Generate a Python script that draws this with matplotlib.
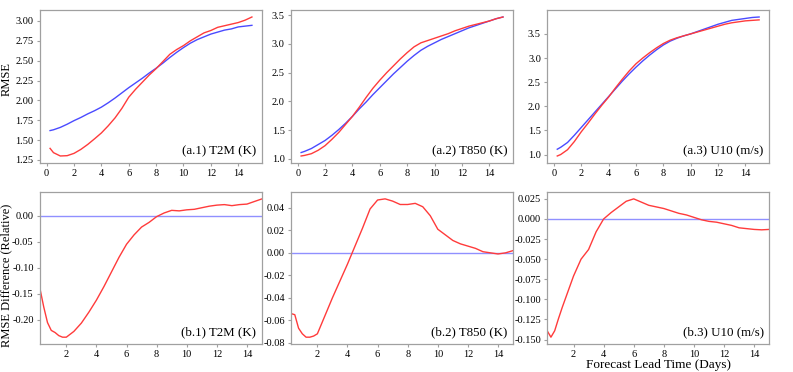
import matplotlib
matplotlib.use("Agg")
import matplotlib.pyplot as plt
from matplotlib.ticker import MultipleLocator

plt.rcParams['font.family'] = ['Liberation Serif', 'DejaVu Serif']
plt.rcParams['axes.unicode_minus'] = False

# lead times (days)
lead_top = [0.25, 0.5, 1, 1.5, 2, 2.5, 3, 3.5, 4, 4.5, 5, 5.5, 6, 6.5, 7, 7.5,
            8, 8.5, 9, 9.5, 10, 10.5, 11, 11.5, 12, 12.5, 13, 13.5, 14, 14.5, 15]
lead_diff = [0.25, 0.5, 0.75, 1, 1.25, 1.5, 1.75, 2, 2.5, 3, 3.5, 4, 4.5, 5, 5.5, 6,
             6.5, 7, 7.5, 8, 8.5, 9, 9.5, 10, 10.5, 11, 11.5, 12, 12.5, 13, 13.5, 14, 14.5, 15]

# RMSE, red model
t2m_red = [1.396, 1.342, 1.30, 1.304, 1.333, 1.383, 1.445, 1.516, 1.59, 1.68, 1.78, 1.90,
           2.04, 2.14, 2.23, 2.32, 2.40, 2.49, 2.58, 2.64, 2.69, 2.75, 2.80, 2.85, 2.88,
           2.92, 2.94, 2.96, 2.98, 3.01, 3.05]
t2m_blue = [1.62, 1.63, 1.66, 1.70, 1.745, 1.785, 1.83, 1.87, 1.915, 1.97, 2.03, 2.095,
            2.16, 2.22, 2.28, 2.345, 2.405, 2.47, 2.54, 2.605, 2.665, 2.72, 2.765, 2.80,
            2.835, 2.86, 2.885, 2.90, 2.925, 2.935, 2.945]

t850_red = [1.05, 1.06, 1.09, 1.15, 1.23, 1.34, 1.46, 1.60, 1.74, 1.90, 2.07, 2.23, 2.37,
            2.50, 2.62, 2.74, 2.85, 2.95, 3.02, 3.06, 3.10, 3.14, 3.18, 3.23, 3.27, 3.31,
            3.34, 3.37, 3.40, 3.44, 3.47]
t850_blue = [1.11, 1.13, 1.18, 1.25, 1.32, 1.41, 1.51, 1.62, 1.74, 1.87, 1.99, 2.12, 2.24,
             2.36, 2.48, 2.59, 2.70, 2.80, 2.89, 2.96, 3.02, 3.08, 3.13, 3.18, 3.23, 3.28,
             3.32, 3.36, 3.40, 3.44, 3.47]

u10_red = [0.97, 1.00, 1.10, 1.27, 1.47, 1.65, 1.84, 2.02, 2.19, 2.38, 2.56, 2.73, 2.88,
           3.00, 3.11, 3.21, 3.30, 3.37, 3.42, 3.46, 3.50, 3.54, 3.58, 3.62, 3.66, 3.70,
           3.73, 3.75, 3.77, 3.78, 3.79]
u10_blue = [1.11, 1.15, 1.25, 1.40, 1.56, 1.72, 1.88, 2.04, 2.20, 2.36, 2.52, 2.67, 2.81,
            2.94, 3.06, 3.17, 3.27, 3.35, 3.41, 3.46, 3.50, 3.55, 3.60, 3.65, 3.70, 3.74,
            3.78, 3.80, 3.82, 3.84, 3.85]

# relative RMSE difference
t2m_diff = [-0.140, -0.175, -0.205, -0.220, -0.224, -0.230, -0.233, -0.233, -0.222, -0.206,
            -0.185, -0.162, -0.136, -0.108, -0.080, -0.055, -0.037, -0.022, -0.013, -0.002,
            0.005, 0.010, 0.009, 0.011, 0.012, 0.015, 0.018, 0.020, 0.021, 0.019, 0.021,
            0.022, 0.027, 0.032]
t850_diff = [-0.054, -0.055, -0.067, -0.072, -0.075, -0.075, -0.074, -0.072, -0.056, -0.040,
             -0.025, -0.010, 0.006, 0.022, 0.039, 0.047, 0.048, 0.046, 0.043, 0.043, 0.044,
             0.041, 0.033, 0.021, 0.016, 0.011, 0.008, 0.006, 0.004, 0.001, 0.000, -0.001,
             0.000, 0.002]
u10_diff = [-0.139, -0.147, -0.139, -0.124, -0.110, -0.097, -0.084, -0.071, -0.050, -0.038,
            -0.016, 0.000, 0.008, 0.015, 0.022, 0.025, 0.021, 0.017, 0.015, 0.013, 0.010,
            0.007, 0.005, 0.002, -0.001, -0.003, -0.004, -0.006, -0.008, -0.011, -0.012,
            -0.013, -0.0135, -0.013]

top_labels = ['(a.1) T2M (K)', '(a.2) T850 (K)', '(a.3) U10 (m/s)']
bot_labels = ['(b.1) T2M (K)', '(b.2) T850 (K)', '(b.3) U10 (m/s)']
top_ystep = [0.25, 0.5, 0.5]
bot_ystep = [0.05, 0.02, 0.025]

RED = '#ff3b3b'
BLUE = '#4a4aff'
SPINE = '#a0a0a0'

fig = plt.figure(figsize=(7.93, 3.72), dpi=100)
lefts = [0.0504, 0.367, 0.690]
width = 0.280


def style(ax, ystep):
    for s in ax.spines.values():
        s.set_color(SPINE)
        s.set_linewidth(0.9)
    ax.xaxis.set_major_locator(MultipleLocator(2))
    ax.yaxis.set_major_locator(MultipleLocator(ystep))
    ax.tick_params(labelsize=7.5, length=2.5, width=0.8, color=SPINE, pad=2)


top_data = [(t2m_red, t2m_blue), (t850_red, t850_blue), (u10_red, u10_blue)]
for i, (red, blue) in enumerate(top_data):
    ax = fig.add_axes([lefts[i], 0.562, width, 0.411])
    ax.plot(lead_top, blue, color=BLUE, lw=1.0)
    ax.plot(lead_top, red, color=RED, lw=1.0)
    ax.text(0.975, 0.04, top_labels[i], transform=ax.transAxes, ha='right', va='bottom',
            fontsize=9.3)
    style(ax, top_ystep[i])
    if i == 0:
        ax.set_ylabel('RMSE', fontsize=9)
        ax.yaxis.set_label_coords(-0.125, 0.55)

diffs = [t2m_diff, t850_diff, u10_diff]
for i, d in enumerate(diffs):
    ax = fig.add_axes([lefts[i], 0.075, width, 0.409])
    ax.axhline(0, color='#9090ff', lw=1.0)
    ax.plot(lead_diff, d, color=RED, lw=1.0)
    ax.set_xlim(lead_diff[0], lead_diff[-1])
    ax.text(0.975, 0.04, bot_labels[i], transform=ax.transAxes, ha='right', va='bottom',
            fontsize=9.3)
    style(ax, bot_ystep[i])
    if i == 0:
        ax.set_ylabel('RMSE Difference (Relative)', fontsize=9)
        ax.yaxis.set_label_coords(-0.125, 0.45)
    if i == 2:
        ax.set_xlabel('Forecast Lead Time (Days)', fontsize=9.5, labelpad=0)

fig.savefig('out.png', dpi=100)
